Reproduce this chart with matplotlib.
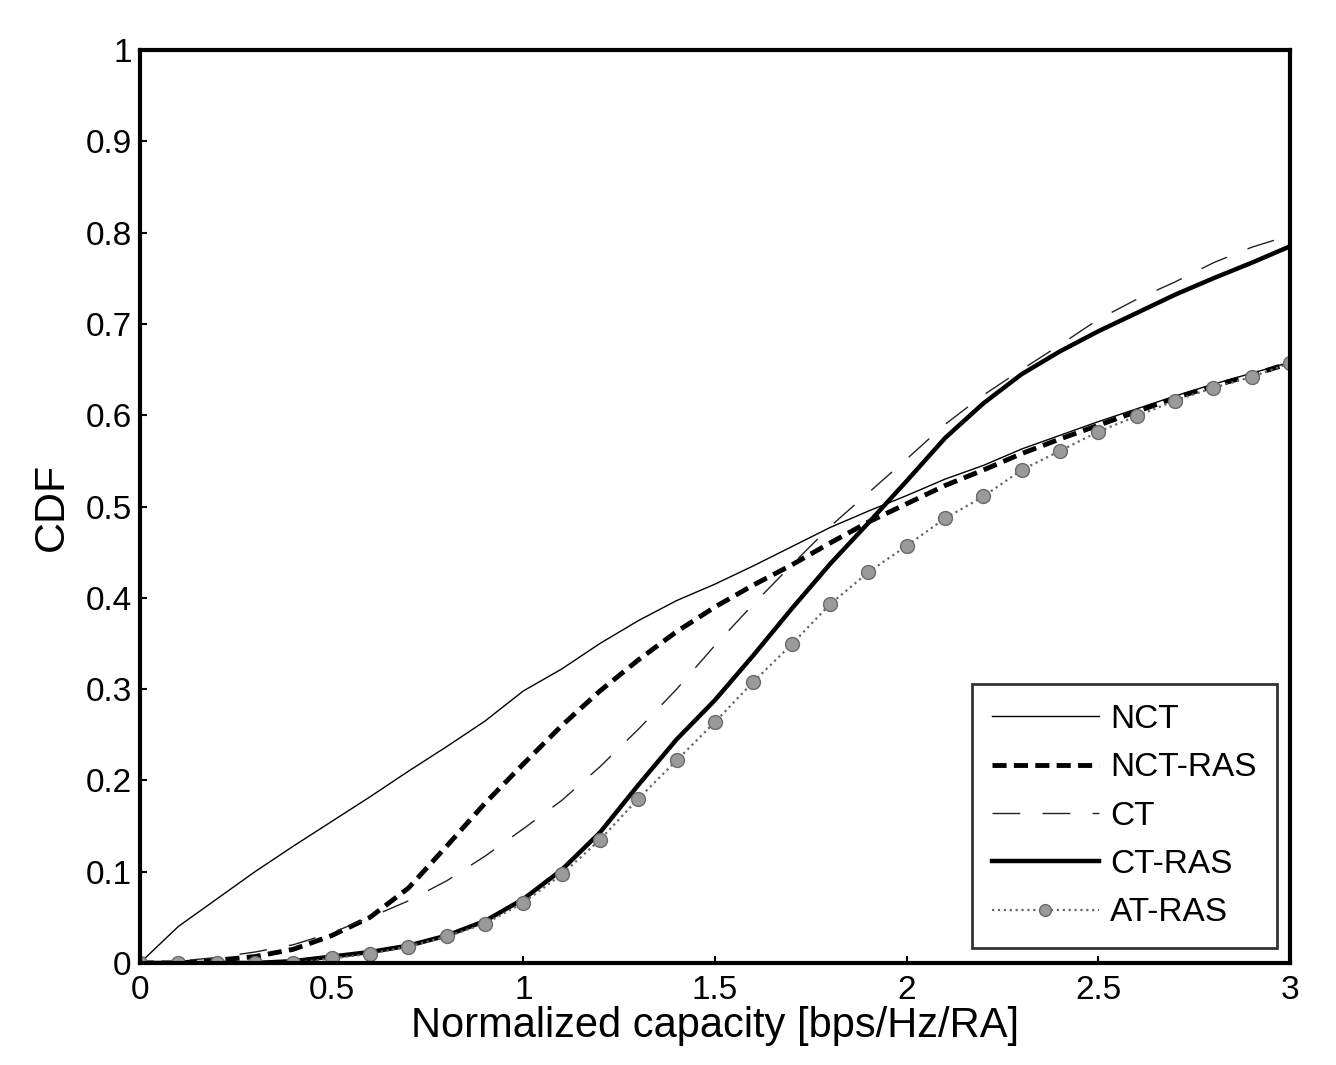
import matplotlib
matplotlib.use("Agg")
import matplotlib.pyplot as plt

x = [0.0, 0.1, 0.2, 0.3, 0.4, 0.5, 0.6, 0.7, 0.8, 0.9, 1.0, 1.1, 1.2, 1.3, 1.4, 1.5,
     1.6, 1.7, 1.8, 1.9, 2.0, 2.1, 2.2, 2.3, 2.4, 2.5, 2.6, 2.7, 2.8, 2.9, 3.0]

nct = [0.0, 0.04, 0.07, 0.10, 0.128, 0.155, 0.182, 0.21, 0.237, 0.265, 0.298, 0.322,
       0.35, 0.375, 0.397, 0.415, 0.435, 0.456, 0.477, 0.495, 0.512, 0.53, 0.545,
       0.563, 0.578, 0.593, 0.607, 0.621, 0.634, 0.646, 0.658]
nct_ras = [0.0, 0.0, 0.003, 0.007, 0.015, 0.03, 0.05, 0.082, 0.128, 0.175, 0.218, 0.26,
           0.298, 0.332, 0.363, 0.39, 0.414, 0.436, 0.46, 0.483, 0.503, 0.523, 0.54,
           0.558, 0.574, 0.589, 0.604, 0.619, 0.632, 0.644, 0.657]
ct = [0.0, 0.002, 0.006, 0.012, 0.02, 0.033, 0.05, 0.068, 0.09, 0.117, 0.147, 0.178,
      0.215, 0.256, 0.30, 0.348, 0.393, 0.436, 0.478, 0.515, 0.552, 0.59, 0.622, 0.65,
      0.677, 0.705, 0.727, 0.746, 0.767, 0.784, 0.797]
ct_ras = [0.0, 0.0, 0.0, 0.0, 0.002, 0.007, 0.012, 0.019, 0.03, 0.046, 0.07, 0.102,
          0.143, 0.195, 0.245, 0.288, 0.337, 0.388, 0.437, 0.482, 0.528, 0.575, 0.613,
          0.645, 0.67, 0.692, 0.712, 0.732, 0.75, 0.767, 0.785]
at_ras = [0.0, 0.0, 0.0, 0.0, 0.0, 0.005, 0.01, 0.018, 0.029, 0.043, 0.066, 0.097, 0.135,
          0.18, 0.222, 0.264, 0.308, 0.349, 0.393, 0.428, 0.457, 0.487, 0.511, 0.54,
          0.561, 0.582, 0.599, 0.616, 0.63, 0.642, 0.657]

xticks = [0, 0.5, 1, 1.5, 2, 2.5, 3]
xticklabels = ["0", "0.5", "1", "1.5", "2", "2.5", "3"]
yticks = [0, 0.1, 0.2, 0.3, 0.4, 0.5, 0.6, 0.7, 0.8, 0.9, 1]
yticklabels = ["0", "0.1", "0.2", "0.3", "0.4", "0.5", "0.6", "0.7", "0.8", "0.9", "1"]

plt.rcParams['font.family'] = ['Liberation Sans', 'DejaVu Sans']

fig = plt.figure(figsize=(13.36, 10.65), dpi=100)
ax = fig.add_axes([0.1048, 0.0958, 0.8608, 0.8572])

ax.plot(x, nct, color='black', lw=1.0, label='NCT')
ax.plot(x, nct_ras, color='black', lw=3.5, ls=(0, (2.9, 1.5)), label='NCT-RAS')
ax.plot(x, ct, color='#222222', lw=1.0, ls=(0, (20, 16)), label='CT')
ax.plot(x, ct_ras, color='black', lw=3.2, label='CT-RAS')
ax.plot(x, at_ras, color='#666666', lw=1.6, ls=':', marker='o', markersize=10,
        markerfacecolor='#9a9a9a', markeredgecolor='#6a6a6a', label='AT-RAS')

ax.set_xlim(0, 3)
ax.set_ylim(0, 1)
ax.set_xticks(xticks)
ax.set_xticklabels(xticklabels)
ax.set_yticks(yticks)
ax.set_yticklabels(yticklabels)
ax.tick_params(axis='x', direction='in', labelsize=24, length=5, width=1.5, pad=9)
ax.tick_params(axis='y', direction='in', labelsize=24, length=5, width=1.5, pad=6)
for s in ax.spines.values():
    s.set_linewidth(3)

ax.set_xlabel('Normalized capacity [bps/Hz/RA]', fontsize=30, labelpad=0)
ax.set_ylabel('CDF', fontsize=31, labelpad=10)

leg = ax.legend(loc='lower right', fontsize=24, frameon=True, fancybox=False,
                edgecolor='black', handlelength=3.2, borderpad=0.6, labelspacing=0.52,
                bbox_to_anchor=(0.9885, 0.016), handletextpad=0.35, markerscale=0.85,
                borderaxespad=0)
leg.get_frame().set_linewidth(2)

fig.savefig('out.png', dpi=100, facecolor='white')
